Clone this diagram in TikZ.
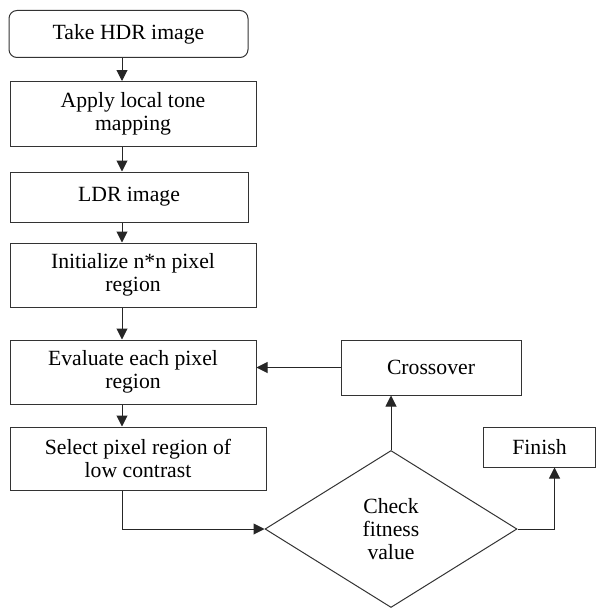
\documentclass[tikz,border=0pt]{standalone}
\usepackage{fontspec}
\setmainfont{Liberation Serif}
\usetikzlibrary{shapes.geometric,arrows.meta}

\begin{document}
\begin{tikzpicture}[x=1pt, y=-1pt,
  box/.style={draw=black!80, line width=1pt, align=center, inner sep=0pt, font=\boxfont},
  flow/.style={draw=black!85, line width=1pt, -{Triangle[length=11pt,width=11pt]}}]
\def\boxfont{\fontsize{21.7}{23}\selectfont}
\def\boxwidth{246pt}

\useasboundingbox (0,0) rectangle (596,610);
\coordinate (spine) at (122,0);

% MAIN COLUMN
\node[box, rounded corners=8pt, minimum width=239pt, minimum height=47pt] (hdr) at (128.5,34) {Take HDR image};
\node[box, minimum width=\boxwidth, minimum height=65pt] (tone) at (133,114) {Apply local tone\\mapping};
\node[box, minimum width=238pt, minimum height=50pt] (ldr) at (129,197) {LDR image};
\node[box, minimum width=\boxwidth, minimum height=64pt] (init) at (133,275) {Initialize n*n pixel\\region};
\node[box, minimum width=\boxwidth, minimum height=64pt] (eval) at (133,372) {Evaluate each pixel\\region};
\node[box, minimum width=256pt, minimum height=63pt] (select) at (138,458.5) {Select pixel region of\\low contrast};

% LOOP
\node[box, diamond, minimum width=252pt, minimum height=157pt] (check) at (391,529) {Check\\fitness\\value};
\node[box, minimum width=180pt, minimum height=55pt] (cross) at (431,367.5) {Crossover};
\node[box, minimum width=112pt, minimum height=40pt] (finish) at (539.5,447) {Finish};

\draw[flow] (hdr.south -| spine) -- (tone.north -| spine);
\draw[flow] (tone.south -| spine) -- (ldr.north -| spine);
\draw[flow] (ldr.south -| spine) -- (init.north -| spine);
\draw[flow] (init.south -| spine) -- (eval.north -| spine);
\draw[flow] (eval.south -| spine) -- (select.north -| spine);
\draw[flow] (select.south -| spine) |- (check.west);
\draw[flow] (check.north) -- (check.north |- cross.south);
\draw[flow] (cross.west) -- (cross.west -| eval.east);
\draw[flow] (check.east) -| ([xshift=15pt]finish.south);
\end{tikzpicture}
\end{document}
